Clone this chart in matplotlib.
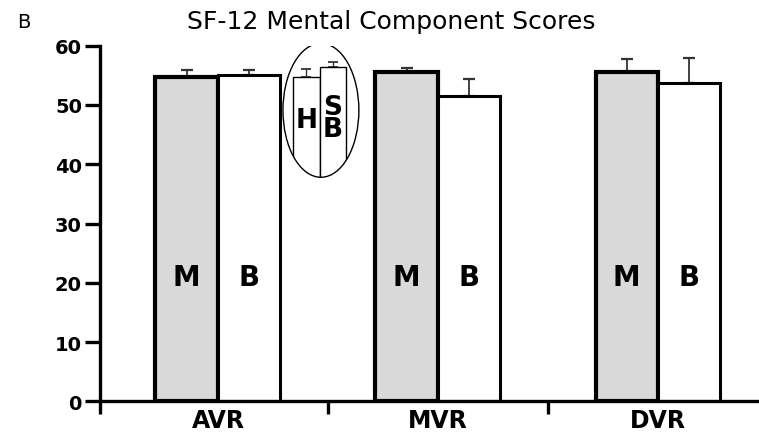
import numpy as np
import matplotlib.pyplot as plt
from matplotlib.patches import Ellipse

plt.rcParams['font.family'] = ['DejaVu Sans']

# SF-12 mental component scores by valve position
groups = ["AVR", "MVR", "DVR"]
mech_mean = [54.7, 55.5, 55.6]
mech_err = [1.2, 0.7, 2.2]
bio_mean = [55.1, 51.5, 53.7]
bio_err = [0.8, 2.8, 4.2]
bar_labels = ["M", "B"]

# inset: homograft vs stentless bioprosthesis (AVR only)
inset_labels = ["H", "S\nB"]
inset_mean = [54.8, 56.4]
inset_err = [1.2, 0.9]

GREY = "#d9d9d9"

fig = plt.figure(figsize=(7.59, 4.35), dpi=100)
ax = fig.add_axes([100 / 759, 0.0752, 1 - 100 / 759, 0.8174])

x = np.arange(len(groups))
w = 0.284
ax.bar(x - w / 2, mech_mean, w, color=GREY, edgecolor="black", linewidth=3.0, zorder=2)
ax.bar(x + w / 2, bio_mean, w, color="white", edgecolor="black", linewidth=2.2, zorder=2)
ax.errorbar(x - w / 2, mech_mean, yerr=[np.zeros(3), mech_err], fmt="none",
            ecolor="#333333", elinewidth=1.3, capsize=4, capthick=1.6, zorder=1)
ax.errorbar(x + w / 2, bio_mean, yerr=[np.zeros(3), bio_err], fmt="none",
            ecolor="#333333", elinewidth=1.3, capsize=4, capthick=1.6, zorder=1)

for xi in x:
    for off, lab in zip((-w / 2, w / 2), bar_labels):
        ax.text(xi + off, 21, lab, ha="center", va="center",
                fontsize=20, fontweight="bold")

# inset bars, clipped to the ellipse outline
ell = Ellipse((0.468, 49.1), 0.345, 22.6, fill=False,
              edgecolor="black", linewidth=1.0, zorder=3)
ax.add_patch(ell)
inset_x = [0.402, 0.523]
inset_w = [0.123, 0.118]
inset_bars = ax.bar(inset_x, inset_mean, inset_w, color="white",
                    edgecolor="black", linewidth=1.0, zorder=2)
for b in inset_bars:
    b.set_clip_path(ell)
ax.errorbar(inset_x, inset_mean, yerr=[np.zeros(2), inset_err], fmt="none",
            ecolor="#333333", elinewidth=1.0, capsize=3.5, capthick=1.3, zorder=1)
ax.text(inset_x[0], 47.4, inset_labels[0], ha="center", va="center",
        fontsize=19, fontweight="bold", zorder=3)
ax.text(inset_x[1], 47.8, inset_labels[1], ha="center", va="center",
        fontsize=19, fontweight="bold", linespacing=0.78, zorder=3)

ax.set_ylim(0, 60)
ax.set_xlim(-0.536, 2.459)
ax.set_yticks([0, 10, 20, 30, 40, 50, 60])
ax.set_xticks([-0.536, 0.5, 1.5])
ax.set_xticklabels([])
for i, g in enumerate(groups):
    ax.text(i, -4.4, g, ha="center", va="baseline", fontsize=17,
            fontweight="bold", clip_on=False)

for s in ("top", "right"):
    ax.spines[s].set_visible(False)
for s in ("left", "bottom"):
    ax.spines[s].set_linewidth(2.4)
ax.tick_params(axis="y", length=11, width=2.4, labelsize=14, pad=2)
ax.tick_params(axis="x", length=9, width=2.4, direction="out")
for lab in ax.get_yticklabels():
    lab.set_fontweight("bold")

fig.text(391 / 759, 1 - 22 / 435, "SF-12 Mental Component Scores",
         ha="center", va="center", fontsize=18)
fig.text(24 / 759, 1 - 22 / 435, "B", ha="center", va="center", fontsize=14)

fig.savefig("out.png", dpi=100)
